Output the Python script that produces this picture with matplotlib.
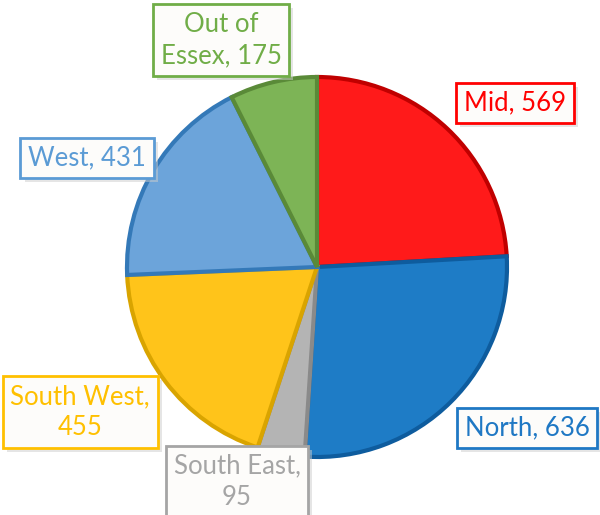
import matplotlib
matplotlib.use("Agg")
import matplotlib.pyplot as plt
import matplotlib.patheffects as pe

categories = ["Mid", "North", "South East", "South West", "West", "Out of\nEssex"]
values = [569, 636, 95, 455, 431, 175]
fill_colors = ["#FF1A1A", "#1E7CC6", "#B4B4B4", "#FFC41A", "#6CA4DA", "#7DB456"]
edge_colors = ["#C00000", "#0E5C9E", "#8A8A8A", "#D9A400", "#3479B8", "#5A8A38"]
text_colors = ["#FF0000", "#1F78C4", "#A5A5A5", "#FFC000", "#5B9BD5", "#70AD47"]
label_sep = [", ", ", ", ",\n", ",\n", ", ", ", "]
label_pos = [(1.042, 0.863), (1.105, -0.847), (-0.421, -1.13), (-1.247, -0.763),
             (-1.21, 0.574), (-0.505, 1.195)]

plt.rcParams['font.family'] = ['Lato', 'DejaVu Sans']

fig = plt.figure(figsize=(6.0, 5.15), dpi=100)
ax = fig.add_axes([0, 0, 1, 1])
wedges, _ = ax.pie(values, colors=fill_colors, startangle=90, counterclock=False,
                   radius=1.0, center=(0, 0),
                   wedgeprops=dict(linewidth=3.0))
for w, ec in zip(wedges, edge_colors):
    w.set_edgecolor(ec)
    w.set_joinstyle('miter')

for cat, val, sep, tc, (x, y) in zip(categories, values, label_sep, text_colors, label_pos):
    t = ax.text(x, y, f"{cat}{sep}{val}", ha="center", va="center", fontsize=18.5,
                color=tc, linespacing=1.3,
                bbox=dict(boxstyle="square,pad=0.3", facecolor="#FDFCFA",
                          edgecolor=tc, linewidth=2.0), zorder=5)
    t.get_bbox_patch().set_path_effects([
        pe.SimplePatchShadow(offset=(3, -3), shadow_rgbFace="#CCCCCC", alpha=0.5),
        pe.Normal()])

ax.set_xlim(-317 / 190, (600 - 317) / 190)
ax.set_ylim(-(515 - 267) / 190, 267 / 190)
ax.set_aspect('equal')
ax.axis('off')
fig.savefig("out.png", dpi=100)
